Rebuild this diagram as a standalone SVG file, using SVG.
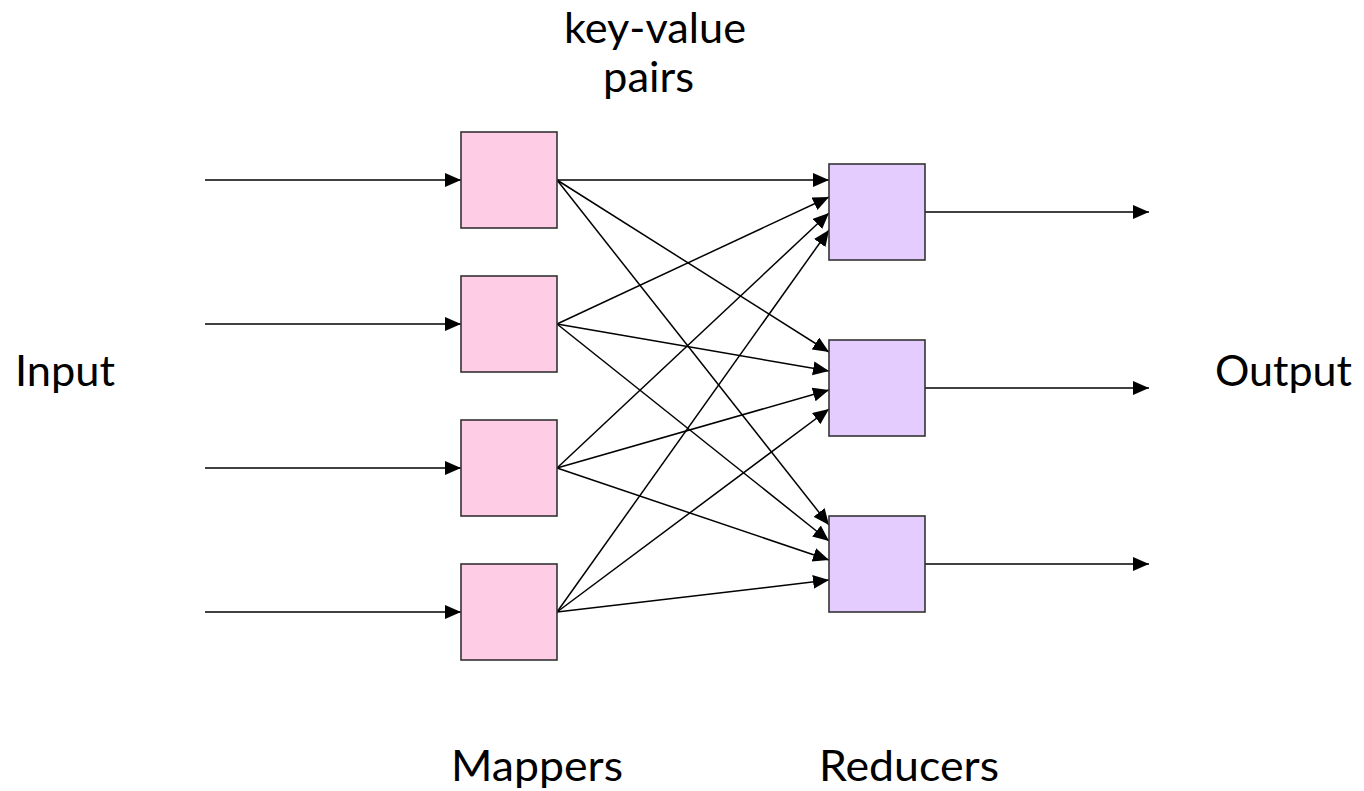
<svg xmlns="http://www.w3.org/2000/svg" width="1364" height="791" viewBox="0 0 1364 791">
<defs>
<marker id="ah" markerUnits="userSpaceOnUse" markerWidth="17" markerHeight="15" refX="16" refY="7" orient="auto">
<path d="M0,0 L16,7 L0,14 z" fill="#000"/>
</marker>
<style>
.m{fill:#ffcce6;stroke:#333;stroke-width:1.6}
.r{fill:#e5ccff;stroke:#333;stroke-width:1.6}
.c line{stroke:#000;stroke-width:1.5;marker-end:url(#ah)}
text{font-family:Lato,"Open Sans","Liberation Sans",sans-serif;font-size:42px;fill:#000}
</style>
</defs>
<rect width="1364" height="791" fill="#fff"/>
<g class="c" id="connectors">
<line x1="205" y1="180" x2="461" y2="180"/>
<line x1="205" y1="324" x2="461" y2="324"/>
<line x1="205" y1="468" x2="461" y2="468"/>
<line x1="205" y1="612" x2="461" y2="612"/>
<line x1="557" y1="180" x2="829" y2="180"/>
<line x1="557" y1="180" x2="829" y2="352"/>
<line x1="557" y1="180" x2="829" y2="525"/>
<line x1="557" y1="324" x2="829" y2="197"/>
<line x1="557" y1="324" x2="829" y2="371"/>
<line x1="557" y1="324" x2="829" y2="541"/>
<line x1="557" y1="468" x2="829" y2="213"/>
<line x1="557" y1="468" x2="829" y2="390"/>
<line x1="557" y1="468" x2="829" y2="560"/>
<line x1="557" y1="612" x2="829" y2="230"/>
<line x1="557" y1="612" x2="829" y2="409"/>
<line x1="557" y1="612" x2="829" y2="580"/>
<line x1="925" y1="212" x2="1149" y2="212"/>
<line x1="925" y1="388" x2="1149" y2="388"/>
<line x1="925" y1="564" x2="1149" y2="564"/>
</g>
<g id="mapper1"><rect class="m" x="461" y="132" width="96" height="96"/></g>
<g id="mapper2"><rect class="m" x="461" y="276" width="96" height="96"/></g>
<g id="mapper3"><rect class="m" x="461" y="420" width="96" height="96"/></g>
<g id="mapper4"><rect class="m" x="461" y="564" width="96" height="96"/></g>
<g id="reducer1"><rect class="r" x="829" y="164" width="96" height="96"/></g>
<g id="reducer2"><rect class="r" x="829" y="340" width="96" height="96"/></g>
<g id="reducer3"><rect class="r" x="829" y="516" width="96" height="96"/></g>
<g id="labels">
<text x="15" y="386" textLength="100" lengthAdjust="spacingAndGlyphs">Input</text>
<text x="1215" y="386" textLength="137" lengthAdjust="spacingAndGlyphs">Output</text>
<text x="564" y="43" textLength="182" lengthAdjust="spacingAndGlyphs">key-value</text>
<text x="603" y="92" textLength="91" lengthAdjust="spacingAndGlyphs">pairs</text>
<text x="451" y="781" textLength="172" lengthAdjust="spacingAndGlyphs">Mappers</text>
<text x="819" y="781" textLength="180" lengthAdjust="spacingAndGlyphs">Reducers</text>
</g>
</svg>
